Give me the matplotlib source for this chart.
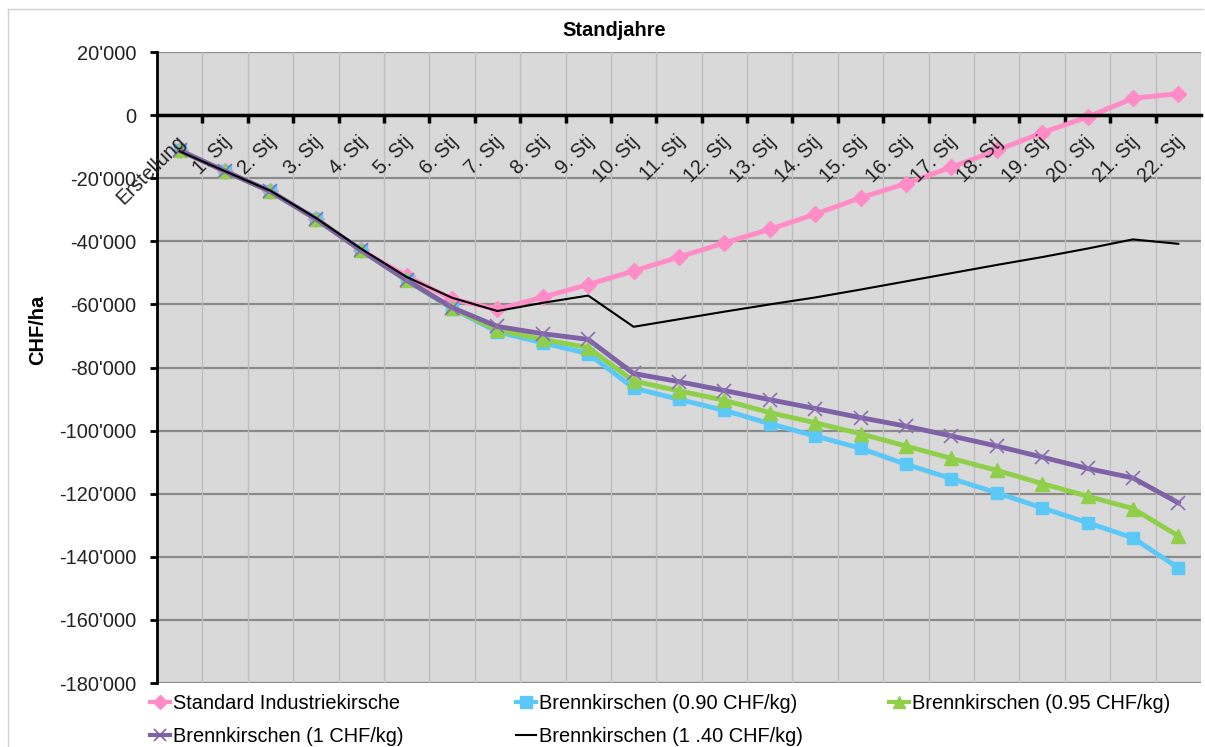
import matplotlib
matplotlib.use('Agg')
import matplotlib.pyplot as plt
from matplotlib.lines import Line2D
from matplotlib.ticker import FuncFormatter, FixedLocator
import numpy as np

plt.rcParams['font.family'] = ['Liberation Sans', 'DejaVu Sans']

categories = ['Erstellung'] + [f'{i}. Stj' for i in range(1, 23)]

standard = [-11200, -17800, -24200, -32900, -42900, -51000, -58300, -61600, -57700, -53700,
            -49400, -45000, -40500, -36200, -31400, -26200, -21700, -16500, -11200, -5600,
            -600, 5300, 6800]
brenn_090 = [-11200, -17800, -24200, -32900, -42900, -52400, -61300, -68700, -72200, -75600,
             -86500, -90100, -93600, -97800, -101700, -105600, -110700, -115200, -119700, -124500,
             -129200, -134000, -143500]
brenn_095 = [-11200, -17800, -24200, -32900, -42900, -52400, -61200, -68200, -71100, -73700,
             -84300, -87400, -90400, -94300, -97500, -101000, -104900, -108800, -112600, -116800,
             -120800, -124700, -133400]
brenn_100 = [-11200, -17800, -24200, -32900, -42900, -52300, -61000, -67000, -69300, -71100,
             -81900, -84500, -87300, -90200, -93000, -95900, -98600, -101700, -104900, -108400,
             -112000, -115000, -122900]
brenn_140 = [-11500, -17800, -24000, -32600, -42400, -51300, -57900, -62100, -59500, -57200,
             -67100, -64700, -62300, -60000, -57800, -55300, -52700, -50100, -47500, -45000,
             -42300, -39400, -40800]

labels = ['Standard Industriekirsche', 'Brennkirschen (0.90 CHF/kg)', 'Brennkirschen (0.95 CHF/kg)',
          'Brennkirschen (1 CHF/kg)', 'Brennkirschen (1 .40 CHF/kg)']

W, H = 1205, 747
fig = plt.figure(figsize=(W / 100, H / 100), dpi=100)
fig.patch.set_facecolor('white')

# outer chart border
fig.add_artist(Line2D([8 / W, 8 / W], [0, 1 - 9 / H], color='#d0d0d0', lw=1))
fig.add_artist(Line2D([8 / W, 1203 / W], [1 - 9 / H, 1 - 9 / H], color='#d0d0d0', lw=1))

left, right, top, bottom = 157, 1201, 52, 683
ax = fig.add_axes([left / W, 1 - bottom / H, (right - left) / W, (bottom - top) / H])
ax.set_facecolor('#D9D9D9')

x = np.arange(len(categories))
fs = 14.4

ax.plot(x, standard, color='#FF8CC6', lw=3.5, marker='D', ms=8, mec='#FF8CC6', zorder=3)
ax.plot(x, brenn_090, color='#5CC8F8', lw=3.5, marker='s', ms=9, mec='#5CC8F8', zorder=4)
ax.plot(x, brenn_095, color='#8FCF4A', lw=3.5, marker='^', ms=10, mec='#8FCF4A', zorder=5)
ax.plot(x, brenn_100, color='#7F62A6', lw=3.5, marker='x', ms=10, mew=1.2, mec='#8A70B0', zorder=6)
ax.plot(x, brenn_140, color='black', lw=1.5, zorder=7)

ax.set_xlim(-0.5, len(categories) - 0.5)
ax.set_ylim(-180000, 20000)

yt = np.arange(-180000, 20001, 20000)
ax.set_yticks(yt)
ax.yaxis.set_major_formatter(FuncFormatter(lambda v, p: f"{int(v):,}".replace(',', "'")))
ax.tick_params(axis='y', direction='out', length=5, width=2, pad=10, labelsize=fs, colors='black')
for lab in ax.get_yticklabels():
    lab.set_color('#222222')

# grid
for v in yt:
    ax.axhline(v, color='#8a8a8a', lw=1.6, zorder=1)
for b in np.arange(-0.5, len(categories), 1.0):
    ax.axvline(b, color='#bdbdbd', lw=1, zorder=1)

ax.spines['top'].set_visible(False)
ax.spines['right'].set_visible(False)
ax.spines['left'].set_linewidth(2)
ax.spines['left'].set_zorder(8)
ax.spines['bottom'].set_position(('data', 0))
ax.spines['bottom'].set_linewidth(2.5)
ax.spines['bottom'].set_zorder(8)
ax.xaxis.set_major_locator(FixedLocator(np.arange(0.5, len(categories) - 0.5, 1.0)))
ax.xaxis.set_major_formatter(FuncFormatter(lambda v, p: ''))
ax.tick_params(axis='x', direction='out', length=6, width=2.5, colors='black')

for i, c in enumerate(categories):
    ax.text(i - 0.08, -5400, c, rotation=45, rotation_mode='anchor', ha='right', va='top',
            fontsize=fs, color='#222222', zorder=9)

fig.text(614 / W, 1 - 30 / H, 'Standjahre', ha='center', va='center', fontsize=fs, fontweight='bold')
fig.text(38 / W, 1 - 330 / H, 'CHF/ha', ha='center', va='center', rotation=90, fontsize=fs, fontweight='bold')

def h(color, marker=None, ms=8, lw=3, mew=1):
    return Line2D([], [], color=color, lw=lw, marker=marker, ms=ms, mec=color, mew=mew)

handles = [h('#FF8CC6', 'D', 7), h('#5CC8F8', 's', 8), h('#8FCF4A', '^', 9),
           h('#7F62A6', 'x', 9, mew=1.2), h('black', None, lw=1.5)]

cols = [([0, 3], 150), ([1, 4], 516), ([2], 889)]
for idx, xpix in cols:
    leg = fig.legend([handles[k] for k in idx], [labels[k] for k in idx], loc='upper left',
                     bbox_to_anchor=(xpix / W, 1 - 694 / H), frameon=False, fontsize=fs,
                     handlelength=1.0, handletextpad=0.15, labelspacing=0.7, borderpad=0,
                     borderaxespad=0)

fig.savefig('out.png', dpi=100)
